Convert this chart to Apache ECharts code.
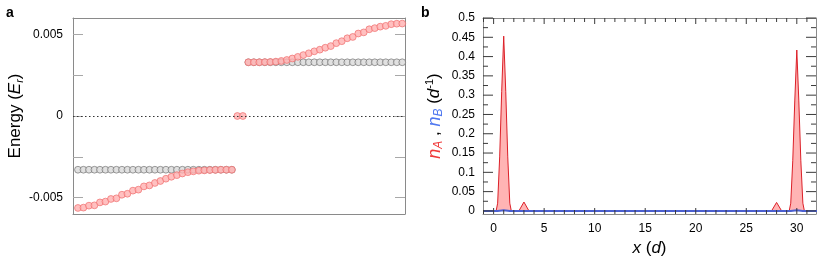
<!DOCTYPE html>
<html>
<head>
<meta charset="utf-8">
<script src="https://cdn.jsdelivr.net/npm/echarts@6/dist/echarts.min.js"></script>
<style>html,body{margin:0;padding:0;background:#fff}#c{width:830px;height:273px}</style>
</head>
<body>
<div id="c"></div>
<script>
// ---- Panel a: energy levels (ordered by level index 1..60) ----
const redLower = [-0.00563,-0.00561,-0.00549,-0.00547,-0.00529,-0.00524,-0.00508,-0.00504,-0.00482,-0.00476,-0.00457,-0.00451,-0.00431,-0.00425,-0.0041,-0.00398,-0.00384,-0.00372,-0.00362,-0.00352,-0.00344,-0.00339,-0.00335,-0.00333,-0.00331,-0.0033,-0.00329,-0.00329,-0.00329];
const redMid = [0, 0];
const redUpper = [0.00329,0.00329,0.00329,0.0033,0.00331,0.00333,0.00337,0.00343,0.00352,0.00362,0.00373,0.00384,0.00396,0.00406,0.00418,0.00428,0.00446,0.00458,0.00476,0.00484,0.00505,0.00512,0.00531,0.00538,0.00547,0.00552,0.00562,0.00565,0.00566];
const greyLower = [-0.00329,-0.00329,-0.00329,-0.00329,-0.00329,-0.00329,-0.00329,-0.00329,-0.00329,-0.00329,-0.00329,-0.00329,-0.00329,-0.00329,-0.00329,-0.00329,-0.00329,-0.00329,-0.00329,-0.00329,-0.00329,-0.00329,-0.00329,-0.00329,-0.00329,-0.00329,-0.00329,-0.00329,-0.00329];
const greyUpper = [0.00329,0.00329,0.00329,0.00329,0.00329,0.00329,0.00329,0.00329,0.00329,0.00329,0.00329,0.00329,0.00329,0.00329,0.00329,0.00329,0.00329,0.00329,0.00329,0.00329,0.00329,0.00329,0.00329,0.00329,0.00329,0.00329,0.00329,0.00329,0.00329];
const energyTicks = [-0.005, -0.0025, 0, 0.0025, 0.005];
const energyLabels = [-0.005, 0, 0.005];

// ---- Panel b: densities ----
const nAx = [-1, 0.25, 0.4, 0.6, 0.8, 1.0, 1.2, 1.4, 1.6, 1.75, 2.5, 3.0, 3.5, 27.5, 28.0, 28.5, 29.25, 29.4, 29.6, 29.8, 30.0, 30.2, 30.4, 30.6, 30.75, 32];
const nAy = [0, 0, 0.02, 0.14, 0.31, 0.453, 0.31, 0.14, 0.02, 0, 0, 0.023, 0, 0, 0.022, 0, 0, 0.02, 0.13, 0.285, 0.417, 0.285, 0.13, 0.02, 0, 0];
const nBx = [-1, 0.4, 1.0, 1.6, 29.4, 30.0, 30.6, 32];
const nBy = [0, 0, 0.002, 0, 0, 0.002, 0, 0];
const xMajor = [0, 5, 10, 15, 20, 25, 30];
const xMinor = [-1,1,2,3,4,6,7,8,9,11,12,13,14,16,17,18,19,21,22,23,24,26,27,28,29,31];
const yMajor = [0, 0.05, 0.1, 0.15, 0.2, 0.25, 0.3, 0.35, 0.4, 0.45, 0.5];
const yMinor = [0.025, 0.075, 0.125, 0.175, 0.225, 0.275, 0.325, 0.375, 0.425, 0.475];

const lowerPts = redLower.map((v, i) => [i + 1, v]);
const midPts = redMid.map((v, i) => [redLower.length + i + 1, v]);
const upperPts = redUpper.map((v, i) => [redLower.length + redMid.length + i + 1, v]);
const greyPts = greyLower.map((v, i) => [i + 1, v]).concat(greyUpper.map((v, i) => [redLower.length + redMid.length + i + 1, v]));
const redPts = lowerPts.concat(midPts, upperPts);

const FONT = 'Liberation Sans';
const frameColor = '#8a8a8a';
const tickDark = '#3a3a3a';

// Panel b extents
const BX = { left: 483, width: 333, min: -1.05, max: 31.9 };
const BY = { top: 18, height: 196, min: -0.008, max: 0.5 };
const xPerPx = (BX.max - BX.min) / BX.width;
const yPerPx = (BY.max - BY.min) / BY.height;

// Panel b tick marks as short segments drawn on its own axes
const tickData = [];
function seg(a, b) { tickData.push(a, b, ['-', '-']); }
yMajor.forEach(v => { seg([BX.min, v], [BX.min + 10 * xPerPx, v]); seg([BX.max - 10 * xPerPx, v], [BX.max, v]); });
yMinor.forEach(v => { seg([BX.min, v], [BX.min + 5 * xPerPx, v]); seg([BX.max - 5 * xPerPx, v], [BX.max, v]); });
xMajor.forEach(v => { seg([v, BY.min], [v, BY.min + 6 * yPerPx]); seg([v, BY.max - 6 * yPerPx], [v, BY.max]); });
xMinor.forEach(v => { seg([v, BY.min], [v, BY.min + 4 * yPerPx]); seg([v, BY.max - 4 * yPerPx], [v, BY.max]); });

function frameAxis(grid, pos, extra) {
  return Object.assign({
    type: 'value', gridIndex: grid, position: pos,
    axisLine: { show: true, onZero: false, lineStyle: { color: frameColor, width: 1 } },
    axisTick: { show: false }, axisLabel: { show: false }, splitLine: { show: false }
  }, extra);
}

const chart = echarts.init(document.getElementById('c'), null, { renderer: 'canvas' });
chart.setOption({
  animation: false,
  textStyle: { fontFamily: FONT },
  grid: [
    { left: 73, top: 18, width: 332, height: 196 },
    { left: BX.left, top: BY.top, width: BX.width, height: BY.height }
  ],
  graphic: [
    { type: 'text', left: 6, top: 6, style: { text: 'a', fontSize: 14, fontWeight: 'bold', fontFamily: FONT, fill: '#000' } },
    { type: 'text', left: 421, top: 6, style: { text: 'b', fontSize: 14, fontWeight: 'bold', fontFamily: FONT, fill: '#000' } }
  ],
  xAxis: [
    frameAxis(0, 'bottom', { min: 0.1, max: 60.5 }),
    frameAxis(0, 'top', { min: 0.1, max: 60.5 }),
    frameAxis(1, 'bottom', {
      min: BX.min, max: BX.max,
      axisLabel: { show: true, customValues: xMajor, margin: 9, fontSize: 12, color: '#000', fontFamily: FONT },
      name: '{i|x}{n| (}{i|d}{n|)}', nameLocation: 'middle', nameGap: 24,
      nameTextStyle: { rich: { i: { fontSize: 17, fontStyle: 'italic', fontFamily: FONT, color: '#000' }, n: { fontSize: 17, fontFamily: FONT, color: '#000' } } }
    }),
    frameAxis(1, 'top', { min: BX.min, max: BX.max })
  ],
  yAxis: [
    frameAxis(0, 'left', {
      min: -0.006, max: 0.006,
      axisTick: { show: true, inside: true, length: 10, customValues: energyTicks, lineStyle: { color: '#a8a8a8' } },
      axisLabel: { show: true, customValues: energyLabels, margin: 10, fontSize: 12, color: '#000', fontFamily: FONT,
        formatter: v => (Math.abs(v) < 1e-12 ? '0' : (v < 0 ? '-' : '') + Math.abs(v).toFixed(3)) },
      name: '{n|Energy (}{i|E}{s|r}{n|)}', nameLocation: 'middle', nameGap: 45, nameRotate: 90,
      nameTextStyle: { rich: {
        n: { fontSize: 17, fontFamily: FONT, color: '#000' },
        i: { fontSize: 17, fontStyle: 'italic', fontFamily: FONT, color: '#000' },
        s: { fontSize: 11, fontStyle: 'italic', fontFamily: FONT, color: '#000', verticalAlign: 'bottom', padding: [8, 0, 0, 0] }
      } }
    }),
    frameAxis(0, 'right', {
      min: -0.006, max: 0.006,
      axisTick: { show: true, inside: true, length: 10, customValues: energyTicks, lineStyle: { color: '#a8a8a8' } }
    }),
    frameAxis(1, 'left', {
      min: BY.min, max: BY.max,
      axisLabel: { show: true, customValues: yMajor, margin: 8, fontSize: 12, color: '#000', fontFamily: FONT,
        formatter: v => String(+v.toFixed(3)) },
      name: '{a|n}{as|A}{k| , }{b|n}{bs|B}{k| (}{i|d}{sp|-1}{k|)}', nameLocation: 'middle', nameGap: 38, nameRotate: 90,
      nameTextStyle: { rich: {
        a: { fontSize: 18, fontStyle: 'italic', fontFamily: FONT, color: '#f03a3a' },
        as: { fontSize: 12, fontStyle: 'italic', fontFamily: FONT, color: '#f03a3a', padding: [9, 0, 0, 0] },
        b: { fontSize: 18, fontStyle: 'italic', fontFamily: FONT, color: '#4f78f0' },
        bs: { fontSize: 12, fontStyle: 'italic', fontFamily: FONT, color: '#4f78f0', padding: [9, 0, 0, 0] },
        k: { fontSize: 17, fontFamily: FONT, color: '#000' },
        i: { fontSize: 17, fontStyle: 'italic', fontFamily: FONT, color: '#000' },
        sp: { fontSize: 11, fontFamily: FONT, color: '#000', padding: [0, 0, 9, 0] }
      } }
    }),
    frameAxis(1, 'right', { min: BY.min, max: BY.max })
  ],
  series: [
    {
      type: 'scatter', xAxisIndex: 0, yAxisIndex: 0, data: [], z: 1, silent: true,
      markLine: { silent: true, symbol: 'none', label: { show: false },
        lineStyle: { type: [1.5, 2.5], color: '#333', width: 1 }, data: [{ yAxis: 0 }] }
    },
    {
      type: 'scatter', xAxisIndex: 0, yAxisIndex: 0, data: greyPts, symbolSize: 6.8, z: 2,
      itemStyle: { color: '#d9d9d9', borderColor: '#6a6a6a', borderWidth: 0.8 }
    },
    {
      type: 'scatter', xAxisIndex: 0, yAxisIndex: 0, data: redPts, symbolSize: 6.8, z: 3,
      itemStyle: { color: '#ffb0b0', borderColor: '#f07070', borderWidth: 0.9 }
    },
    {
      type: 'line', xAxisIndex: 2, yAxisIndex: 2, data: nAx.map((x, i) => [x, nAy[i]]),
      showSymbol: false, clip: true, z: 2,
      lineStyle: { color: '#dc2028', width: 1 },
      areaStyle: { color: '#ffb4b4', origin: 0, opacity: 1 }
    },
    {
      type: 'line', xAxisIndex: 2, yAxisIndex: 2, data: nBx.map((x, i) => [x, nBy[i]]),
      showSymbol: false, clip: true, z: 3,
      lineStyle: { color: '#4a5fd0', width: 2 }
    },
    {
      type: 'line', xAxisIndex: 2, yAxisIndex: 2, data: tickData,
      showSymbol: false, clip: false, silent: true, z: 4, connectNulls: false,
      lineStyle: { color: tickDark, width: 1 }
    }
  ]
});
</script>
</body>
</html>
